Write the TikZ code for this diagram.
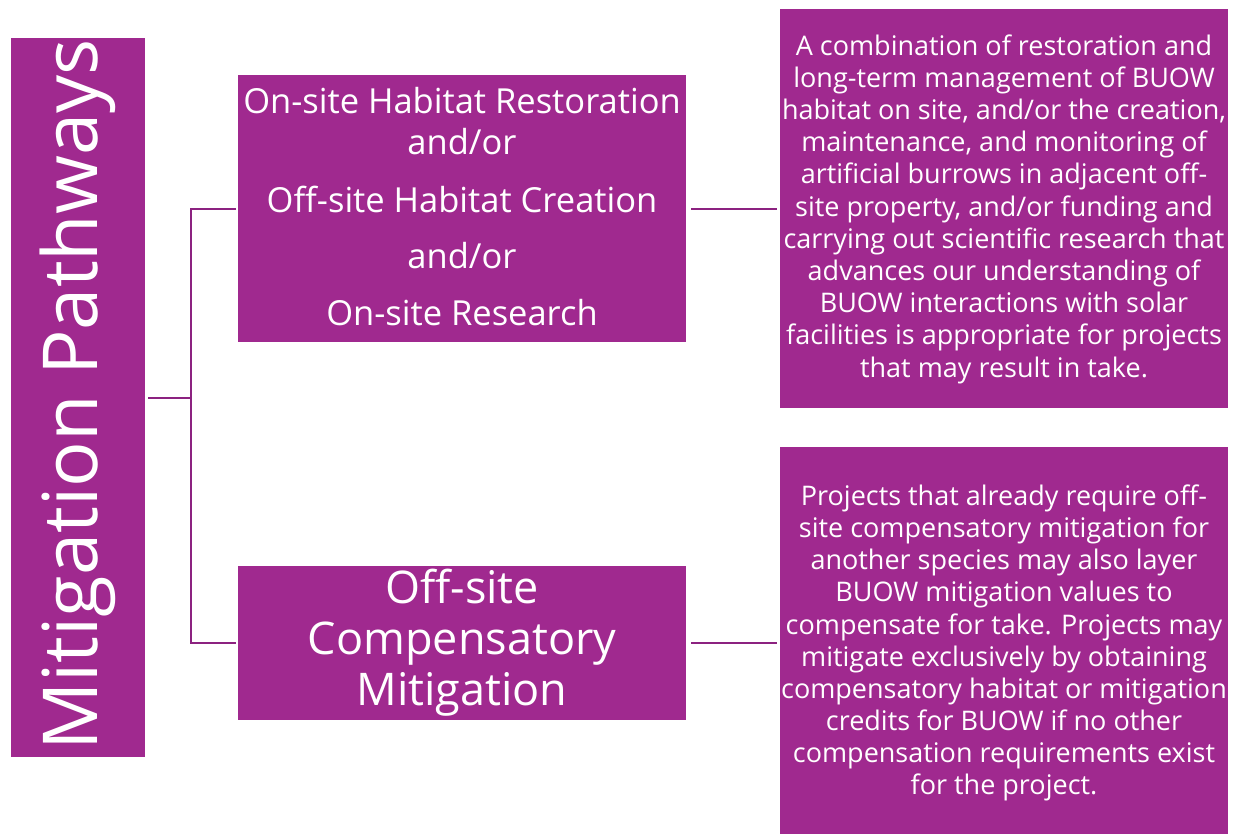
\documentclass[tikz,border=0pt]{standalone}
\usepackage{fontspec}
\setmainfont[Ligatures=NoCommon]{Open Sans}
\definecolor{boxpurple}{HTML}{A0298F}
\definecolor{linepurple}{HTML}{8C2280}
\begin{document}
\begin{tikzpicture}[x=1pt,y=-1pt,
  pbox/.style={fill=boxpurple, draw=none, inner sep=0pt, text=white},
  conn/.style={draw=linepurple, line width=2.4pt},
  txt/.style={text=white, align=center, inner sep=0pt}]
\useasboundingbox[fill=white] (0,0) rectangle (1238,835);
% boxes
\node[pbox, minimum width=134pt, minimum height=719pt, anchor=north west] (title) at (11,38) {};
\node[pbox, minimum width=448pt, minimum height=267pt, anchor=north west] (b1) at (238,75) {};
\node[pbox, minimum width=448pt, minimum height=399pt, anchor=north west] (d1) at (780,9) {};
\node[pbox, minimum width=448pt, minimum height=154pt, anchor=north west] (b2) at (238,566) {};
\node[pbox, minimum width=448pt, minimum height=387pt, anchor=north west] (d2) at (780,447) {};
% title text
\node[txt, rotate=90, font=\fontsize{75.8}{80}\selectfont] (tt) at (78,395) {Mitigation Pathways};
% box 1 text
\begin{scope}[every node/.style={txt, font=\fontsize{34.5}{40}\selectfont}]
\node (l1) at (462,101) {On-site Habitat Restoration};
\node (l2) at (462,142) {and/or};
\node (l3) at (462,199) {Off-site Habitat Creation};
\node (l4) at (462,256) {and/or};
\node (l5) at (462,313) {On-site Research};
\end{scope}
% box 2 text
\node[txt, font=\fontsize{45}{51}\selectfont] (t2) at (462,643) {Off-site\\Compensatory\\Mitigation};
% description texts
\node[txt, font=\fontsize{27}{32.2}\selectfont] (t3) at (1004,209) {A combination of restoration and\\long-term management of BUOW\\habitat on site, and/or the creation,\\maintenance, and monitoring of\\artificial burrows in adjacent off-\\site property, and/or funding and\\carrying out scientific research that\\advances our understanding of\\BUOW interactions with solar\\facilities is appropriate for projects\\that may result in take.};
\node[txt, font=\fontsize{27}{32.1}\selectfont] (t4) at (1004,643) {Projects that already require off-\\site compensatory mitigation for\\another species may also layer\\BUOW mitigation values to\\compensate for take. Projects may\\mitigate exclusively by obtaining\\compensatory habitat or mitigation\\credits for BUOW if no other\\compensation requirements exist\\for the project.};
% connectors
\coordinate (jt) at (191,398);
\coordinate (j1) at (191,209);
\coordinate (j2) at (191,643);
\draw[conn] (title.east |- jt) ++(3,0) -- (jt);
\draw[conn] (b1.west |- j1) ++(-2,0) -- (j1) -- (j2) -- ([xshift=-2pt]b2.west |- j2);
\draw[conn] ([xshift=5pt]b1.east |- 0,209) -- ([xshift=-3pt]d1.west |- 0,209);
\draw[conn] ([xshift=5pt]b2.east |- 0,643) -- ([xshift=-3pt]d2.west |- 0,643);
\end{tikzpicture}
\end{document}
